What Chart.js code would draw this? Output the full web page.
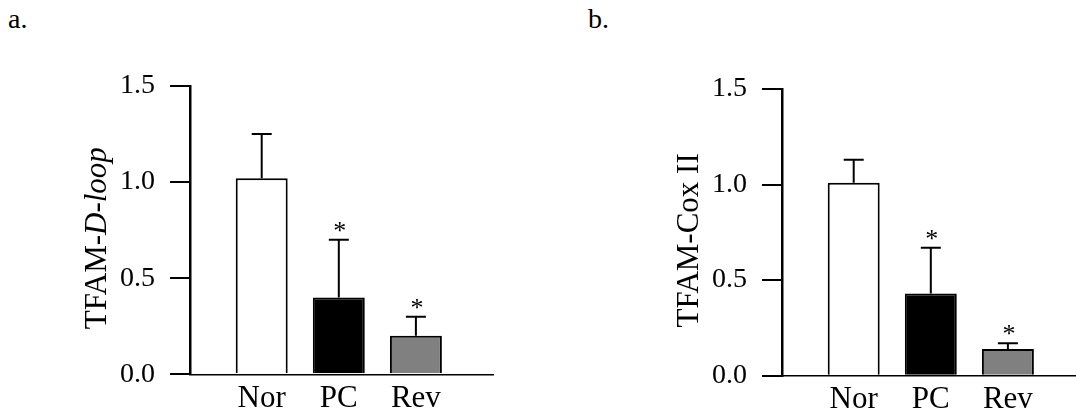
<!DOCTYPE html>
<html>
<head>
<meta charset="utf-8">
<script src="https://cdn.jsdelivr.net/npm/chart.js@4.4.1/dist/chart.umd.min.js"></script>
<style>
  html, body { margin: 0; padding: 0; background: #fff; }
  body { width: 1076px; height: 414px; overflow: hidden; position: relative; font-family: "Liberation Serif", serif; }
  .panel-label { position: absolute; top: 5px; font-size: 28px; line-height: 28px; color: #000; }
  canvas { position: absolute; top: 0; }
</style>
</head>
<body>
<div class="panel-label" style="left:8px">a.</div>
<div class="panel-label" style="left:588px">b.</div>
<canvas id="dloop" width="538" height="440" style="left:0"></canvas>
<canvas id="cox" width="538" height="440" style="left:592px"></canvas>
<script>
const categories = ['Nor', 'PC', 'Rev'];
const dloopMean = [1.02, 0.40, 0.20];
const dloopSD = [0.23, 0.30, 0.10];
const coxMean = [1.01, 0.43, 0.14];
const coxSD = [0.12, 0.24, 0.03];
const significant = [false, true, true];
const yTicks = [0, 0.5, 1.0, 1.5];
const barColors = ['#ffffff', '#000000', '#808080'];

const serif = '"Liberation Serif", "Times New Roman", serif';

// mean + SD whiskers, with * over the significant groups
function makeErrorBars(mean, sd) {
  return {
    id: 'errorBars',
    afterDatasetsDraw(chart) {
      const ctx = chart.ctx;
      const y = chart.scales.y;
      const meta = chart.getDatasetMeta(0);
      ctx.save();
      ctx.strokeStyle = '#000';
      ctx.fillStyle = '#000';
      ctx.lineWidth = 2;
      meta.data.forEach((bar, i) => {
        const top = y.getPixelForValue(mean[i] + sd[i]);
        ctx.beginPath();
        ctx.moveTo(bar.x, bar.y);
        ctx.lineTo(bar.x, top);
        ctx.moveTo(bar.x - 10, top);
        ctx.lineTo(bar.x + 10, top);
        ctx.stroke();
        if (significant[i]) {
          ctx.font = '26px ' + serif;
          ctx.textAlign = 'center';
          ctx.textBaseline = 'alphabetic';
          ctx.fillText('*', bar.x + 1, top - 1);
        }
      });
      ctx.restore();
    }
  };
}

// y title with mixed upright / italic parts
function makeAxisTitle(parts) {
  return {
    id: 'axisTitle',
    afterDraw(chart) {
      const { ctx, chartArea } = chart;
      ctx.save();
      ctx.translate(chartArea.left - 84, (chartArea.top + chartArea.bottom) / 2 + 8);
      ctx.rotate(-Math.PI / 2);
      ctx.fillStyle = '#000';
      ctx.textBaseline = 'alphabetic';
      ctx.textAlign = 'left';
      const fonts = parts.map(p => (p.italic ? 'italic ' : '') + '31px ' + serif);
      let total = 0;
      const widths = parts.map((p, i) => {
        ctx.font = fonts[i];
        const w = ctx.measureText(p.text).width;
        total += w;
        return w;
      });
      let x = -total / 2;
      parts.forEach((p, i) => {
        ctx.font = fonts[i];
        ctx.fillText(p.text, x, 0);
        x += widths[i];
      });
      ctx.restore();
    }
  };
}

function buildChart(id, mean, sd, titleParts, padTop, padBottom) {
  return new Chart(document.getElementById(id), {
    type: 'bar',
    data: {
      datasets: [{
        data: categories.map((c, i) => ({ x: i + 1, y: mean[i] })),
        backgroundColor: barColors,
        borderColor: '#000',
        borderWidth: 2,
        barPercentage: 0.674,
        categoryPercentage: 1
      }]
    },
    options: {
      responsive: false,
      animation: false,
      layout: { padding: { top: padTop, right: 45, bottom: padBottom, left: 0 } },
      plugins: { legend: { display: false }, tooltip: { enabled: false } },
      scales: {
        x: {
          type: 'linear',
          offset: false,
          min: 0.07,
          max: 4,
          grid: { display: false, drawTicks: false, offset: false },
          border: { display: true, color: '#000', width: 1.5 },
          afterBuildTicks: s => { s.ticks = categories.map((c, i) => ({ value: i + 1 })); },
          ticks: {
            color: '#000',
            font: { family: serif, size: 31 },
            padding: 6,
            autoSkip: false,
            maxRotation: 0,
            callback: v => categories[v - 1]
          },
          afterFit: s => { s.height = 40; }
        },
        y: {
          min: 0,
          max: 1.5,
          afterBuildTicks: s => { s.ticks = yTicks.map(v => ({ value: v })); },
          grid: { drawOnChartArea: false, drawTicks: true, tickLength: 20, color: '#000', lineWidth: 2 },
          border: { display: true, color: '#000', width: 2.5 },
          ticks: {
            color: '#000',
            font: { family: serif, size: 28 },
            padding: 15,
            callback: v => v.toFixed(1)
          },
          afterFit: s => { s.width = 190; }
        }
      }
    },
    plugins: [makeErrorBars(mean, sd), makeAxisTitle(titleParts)]
  });
}

buildChart('dloop', dloopMean, dloopSD,
  [{ text: 'TFAM-', italic: false }, { text: 'D-loop', italic: true }], 86, 25.7);
buildChart('cox', coxMean, coxSD,
  [{ text: 'TFAM-Cox II', italic: false }], 89, 24.3);
</script>
</body>
</html>
